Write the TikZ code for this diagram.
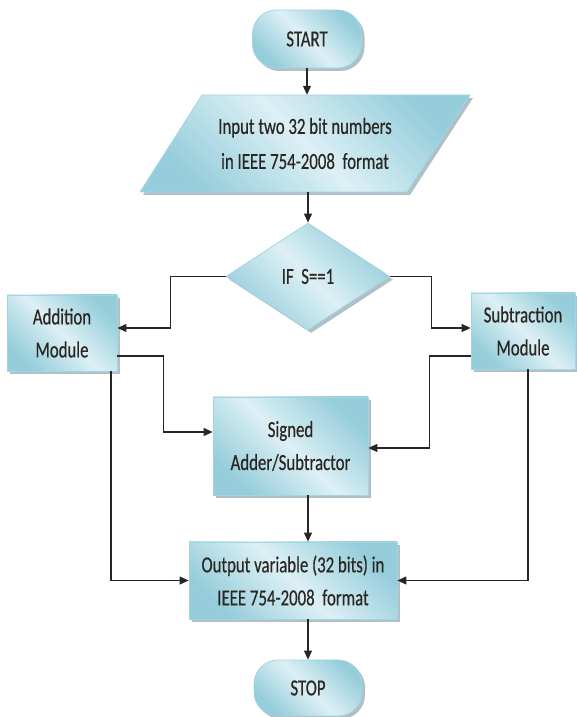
\documentclass[tikz,border=0pt]{standalone}
\usepackage{fontspec}
\setmainfont{Carlito}[FakeStretch=0.73,FakeBold=0.4]
\usetikzlibrary{shapes.geometric,arrows.meta,shadows}
\definecolor{flowlight}{HTML}{DDF0F5}
\definecolor{flowdark}{HTML}{95CDDB}
\definecolor{flowedge}{HTML}{A3D6E2}
\definecolor{flowshadow}{HTML}{9CB0B8}
\definecolor{flowtext}{HTML}{2B2622}
\pgfdeclarehorizontalshading{flowshade}{100bp}{color(0bp)=(flowdark); color(25bp)=(flowdark); color(50bp)=(flowlight); color(75bp)=(flowdark); color(100bp)=(flowdark)}
\tikzset{
	flowbox/.style={draw=flowedge, line width=0.8pt, shading=flowshade, shading angle=45,
		drop shadow={shadow xshift=3pt, shadow yshift=-3pt, fill=flowshadow, opacity=.8},
		inner sep=0pt, align=center, text=flowtext, font=\fontsize{23}{33}\selectfont},
	flowline/.style={draw=black!85, line width=1.1pt, -{Triangle[length=9pt,width=8pt]}},
}
\begin{document}
\begin{tikzpicture}[x=1pt,y=1pt]
			\useasboundingbox (0,0) rectangle (577,717);
			%--
			\node[flowbox, rounded corners=24pt, minimum width=109pt, minimum height=58pt] (start) at (307,678) {START};
			\fill[flowshadow, opacity=.8] (205,619) -- (473,619) -- (410,522) -- (143,522) -- cycle;
			\shade[shading=flowshade, shading angle=45, draw=flowedge, line width=0.8pt] (202,622) -- (470,622) -- (407,525) -- (140,525) -- cycle;
			\node[inner sep=0pt, minimum height=97pt, align=center, text=flowtext, font=\fontsize{23}{35}\selectfont] (input) at (305,573.5) {Input two 32 bit numbers\\in IEEE 754-2008\ \ format};
			\node[flowbox, diamond, minimum width=164pt, minimum height=107pt] (cond) at (308,440.5) {IF\ \ S==1};
			\node[flowbox, minimum width=110pt, minimum height=76pt] (add) at (62,384) {Addition\\Module};
			\node[flowbox, minimum width=104pt, minimum height=76pt] (sub) at (523,386) {Subtraction\\Module};
			\node[flowbox, minimum width=155pt, minimum height=98pt] (signed) at (290.5,271) {Signed\\Adder/Subtractor};
			\node[flowbox, minimum width=208pt, minimum height=77pt] (out) at (293,136.5) {Output variable (32 bits) in\\IEEE 754-2008\ \ format};
			\node[flowbox, rounded corners=24pt, minimum width=108pt, minimum height=56pt] (stop) at (308,29) {STOP};
			%--
			\draw[flowline] (start.south) -- (start.south |- input.north);
			\draw[flowline] (cond.north |- input.south) -- (cond.north);
			\draw[flowline] (cond.west) -- ++(-55,0) |- ([yshift=5pt]add.east);
			\draw[flowline] (cond.east) -- ++(41,0) |- ([yshift=3pt]sub.west);
			\draw[flowline] ([yshift=-23pt]add.east) -- ++(46,0) |- ([yshift=14pt]signed.west);
			\draw[flowline] ([yshift=-25pt]sub.west) -- ++(-41,0) |- ([yshift=-2pt]signed.east);
			\draw[flowline] ([xshift=49pt]add.south) |- (out.west);
			\draw[flowline] ([xshift=5pt]sub.south) |- (out.east);
			\draw[flowline] (signed.south -| cond.north) -- (out.north -| cond.north);
			\draw[flowline] (out.south -| stop.north) -- (stop.north);
		\end{tikzpicture}
\end{document}
